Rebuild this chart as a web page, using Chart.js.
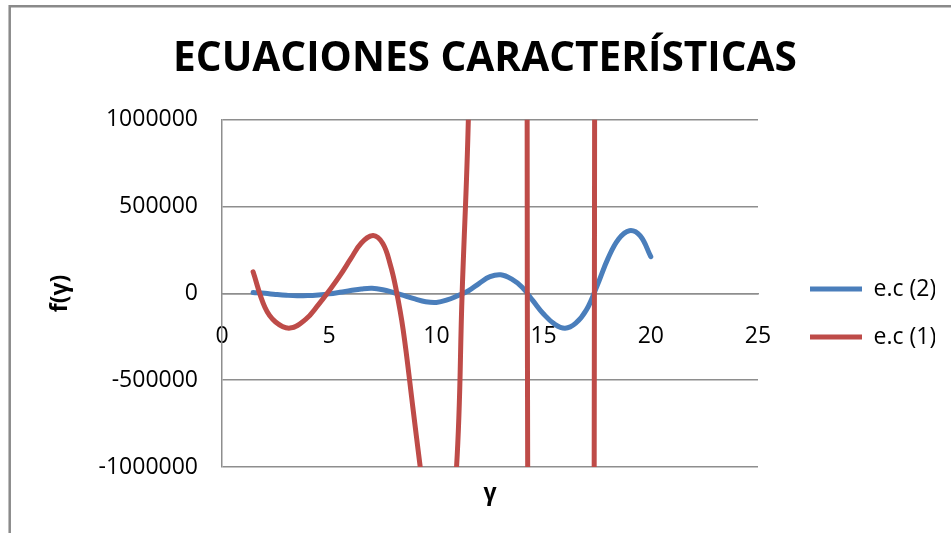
<!DOCTYPE html>
<html>
<head>
<meta charset="utf-8">
<title>Ecuaciones características</title>
<script src="https://cdn.jsdelivr.net/npm/chart.js@4.4.0/dist/chart.umd.min.js"></script>
<style>
  html, body { margin: 0; padding: 0; background: #fff; }
  canvas { display: block; }
</style>
</head>
<body>
<canvas id="chart" width="951" height="533"></canvas>
<script>
// e.c (2)
const gammaEc2 = [1.45, 2, 2.5, 3, 3.5, 4, 4.5, 5, 5.5, 6, 6.5, 7, 7.5, 8, 8.5, 9, 9.5, 10, 10.5, 11, 11.5, 12, 12.5, 13, 13.5, 14, 14.5, 15, 15.5, 16, 16.5, 17, 17.5, 18, 18.5, 19, 19.5, 20];
const valuesEc2 = [5000, 0, -6000, -11000, -14000, -13000, -9000, -3000, 6000, 16000, 25000, 29000, 21000, 5000, -13000, -32000, -48000, -52000, -38000, -13000, 15000, 58000, 96000, 107000, 83000, 35000, -42000, -119000, -176000, -201000, -172000, -95000, 45000, 200000, 313000, 361000, 332000, 211000];

// e.c (1) - goes far off the scale, values outside the plot are estimates
const gammaEc1 = [1.45, 2, 2.5, 3.17, 3.9, 4.5, 4.91, 5.5, 6, 6.5, 7.05, 7.5, 7.85, 8.1, 8.45, 8.9, 9.23, 9.6, 10, 10.5, 10.94, 11.2, 11.49, 12, 13, 14, 14.24, 14.5, 15.5, 16.3, 17, 17.37, 17.7, 18.5, 19.3, 20];
const valuesEc1 = [124000, -80000, -165000, -200000, -150000, -65000, 0, 102000, 198000, 290000, 333000, 287000, 165000, 35000, -210000, -655000, -985000, -1330000, -1550000, -1450000, -1000000, 0, 1000000, 4000000, 20000000, 12000000, 0, -14000000, -55000000, -65000000, -30000000, 0, 40000000, 150000000, 200000000, 120000000];

const xTicks = [0, 5, 10, 15, 20, 25];
const yTicks = [-1000000, -500000, 0, 500000, 1000000];

const toPoints = (xs, ys) => xs.map((x, i) => ({ x: x, y: ys[i] }));

Chart.defaults.font.family = "'Open Sans', sans-serif";
Chart.defaults.color = '#000';

// grey frame of the chart object (left and top edges are visible)
const framePlugin = {
  id: 'frame',
  beforeDraw(chart) {
    const ctx = chart.ctx;
    ctx.save();
    ctx.fillStyle = '#fff';
    ctx.fillRect(0, 0, chart.width, chart.height);
    ctx.strokeStyle = '#8a8a8a';
    ctx.lineWidth = 2.5;
    ctx.beginPath();
    ctx.moveTo(9.7, chart.height);
    ctx.lineTo(9.7, 6.2);
    ctx.lineTo(chart.width, 6.2);
    ctx.stroke();
    ctx.restore();
  }
};

const gridGrey = '#8e8e8e';

new Chart(document.getElementById('chart'), {
  type: 'scatter',
  data: {
    datasets: [
      {
        label: 'e.c (2)',
        data: toPoints(gammaEc2, valuesEc2),
        borderColor: '#4a7ebb',
        backgroundColor: '#4a7ebb',
        borderWidth: 5,
        borderCapStyle: 'round',
        showLine: true,
        pointRadius: 0,
        tension: 0.4,
        clip: 0,
        order: 1,
        xAxisID: 'x',
        yAxisID: 'y'
      },
      {
        label: 'e.c (1)',
        data: toPoints(gammaEc1, valuesEc1),
        borderColor: '#be4b48',
        backgroundColor: '#be4b48',
        borderWidth: 5,
        borderCapStyle: 'round',
        showLine: true,
        pointRadius: 0,
        tension: 0.4,
        clip: 0,
        order: 0,
        xAxisID: 'x',
        yAxisID: 'y'
      }
    ]
  },
  options: {
    responsive: false,
    animation: false,
    devicePixelRatio: 1,
    layout: { padding: { left: 35, right: 16, top: 0, bottom: 0 } },
    scales: {
      x: {
        type: 'linear',
        position: { y: 0 },
        min: 0,
        max: 25,
        afterBuildTicks: s => { s.ticks = xTicks.map(v => ({ value: v })); },
        grid: { display: false, drawTicks: false },
        border: { display: true, color: gridGrey, width: 1.5 },
        ticks: { padding: 29, font: { size: 23 }, color: '#000' }
      },
      y: {
        type: 'linear',
        position: 'left',
        min: -1000000,
        max: 1000000,
        afterBuildTicks: s => { s.ticks = yTicks.map(v => ({ value: v })); },
        afterFit: s => { s.width = 187; },
        grid: { color: gridGrey, lineWidth: 1.5, drawTicks: false },
        border: { display: true, color: gridGrey, width: 1.5 },
        ticks: { padding: 24, font: { size: 23 }, color: '#000', callback: v => String(v) },
        title: {
          display: true,
          text: 'f(γ)',
          font: { size: 23, weight: 'bold' },
          color: '#000',
          padding: { top: 12, bottom: 0 }
        }
      },
      // holds the axis title below the plot
      xt: {
        type: 'linear',
        position: 'bottom',
        afterFit: s => { s.height = 66; },
        grid: { display: false },
        border: { display: false },
        ticks: { display: false },
        title: {
          display: true,
          text: 'γ',
          font: { size: 23, weight: 'bold' },
          color: '#000',
          padding: { top: 0, bottom: 26 }
        }
      },
      // gap between plot and legend
      yr: {
        type: 'linear',
        position: 'right',
        afterFit: s => { s.width = 27; },
        grid: { display: false },
        border: { display: false },
        ticks: { display: false }
      }
    },
    plugins: {
      title: {
        display: true,
        text: 'ECUACIONES CARACTERÍSTICAS',
        font: { size: 40.6, weight: 'bold' },
        color: '#000',
        padding: { top: 35, bottom: 36 }
      },
      legend: {
        position: 'right',
        fullSize: false,
        title: { display: true, text: ' ', font: { size: 10 }, padding: { top: 14, bottom: 13.4 } },
        labels: {
          usePointStyle: true,
          pointStyle: 'line',
          pointStyleWidth: 52,
          padding: 25,
          color: '#000',
          font: { size: 23 },
          sort: (a, b) => a.datasetIndex - b.datasetIndex
        }
      },
      tooltip: { enabled: false }
    }
  },
  plugins: [framePlugin]
});
</script>
</body>
</html>
